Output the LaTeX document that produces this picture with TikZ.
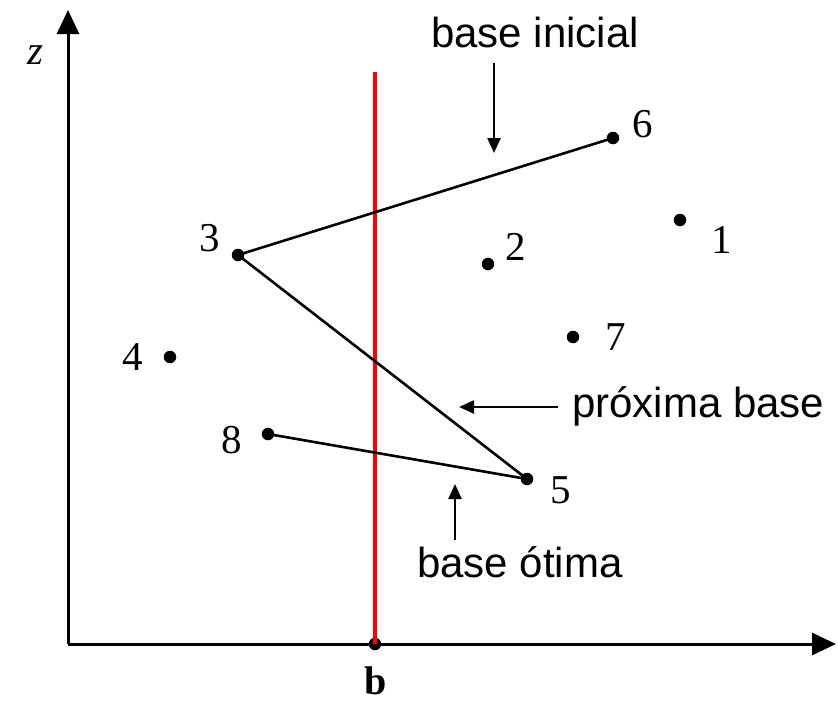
\documentclass[tikz,border=0pt]{standalone}
\usepackage{fontspec}
\setmainfont{Liberation Serif}
\newfontfamily\labelsans{Liberation Sans}
\usetikzlibrary{arrows.meta}
\begin{document}
\begin{tikzpicture}[x=1pt,y=-1pt,
  axis/.style={line width=3pt,-{Triangle[length=24pt,width=22pt]}},
  seg/.style={line width=2.6pt},
  pointer/.style={line width=2.4pt,-{Triangle[length=15pt,width=13pt]}},
  pt/.style={circle,fill=black,inner sep=0pt,minimum size=12.5pt},
  num/.style={font=\fontsize{41}{44}\selectfont,inner sep=0pt},
  txt/.style={font=\labelsans\fontsize{42}{46}\selectfont,inner sep=0pt,anchor=base west}]
\useasboundingbox (0,0) rectangle (838,702);
% axes
\coordinate (O) at (68,644);
\coordinate (ytip) at (68,10);
\coordinate (xtip) at (836,644);
\draw[axis] (O) -- (ytip);
\draw[axis] (O) -- (xtip);
% red line
\coordinate (rtop) at (375,72);
\node[pt] (b0) at (375,644) {};
\draw[red,line width=4pt] (b0.center) -- (rtop);
\node[font=\bfseries\fontsize{40}{44}\selectfont,inner sep=0pt] (blab) at (376,681) {b};
\node[font=\itshape\fontsize{41}{44}\selectfont,inner sep=0pt] (zlab) at (35,55) {z};
% points
\node[pt] (p1) at (680,220) {};
\node[pt] (p2) at (488,264) {};
\node[pt] (p3) at (238,255) {};
\node[pt] (p4) at (170,357) {};
\node[pt] (p5) at (527,479) {};
\node[pt] (p6) at (613,138) {};
\node[pt] (p7) at (573,337) {};
\node[pt] (p8) at (268,434) {};
% labels
\node[num] (l1) at (722,240) {1};
\node[num] (l2) at (516,247) {2};
\node[num] (l3) at (210,238) {3};
\node[num] (l4) at (133,357) {4};
\node[num] (l5) at (561,490) {5};
\node[num] (l6) at (643,124) {6};
\node[num] (l7) at (616,337) {7};
\node[num] (l8) at (232,440) {8};
% segments
\draw[seg] (p3.center) -- (p6.center);
\draw[seg] (p3.center) -- (p5.center);
\draw[seg] (p8.center) -- (p5.center);
% annotations
\node[txt] (tini) at (431,47) {base inicial};
\node[txt] (tprox) at (572,417) {próxima base};
\node[txt] (totim) at (417,577) {base ótima};
\coordinate (a1s) at (494,63);
\coordinate (a1e) at (494,153);
\coordinate (a2s) at (558,407);
\coordinate (a2e) at (459,407);
\coordinate (a3s) at (455,540);
\coordinate (a3e) at (455,484);
\draw[pointer] (a1s) -- (a1e);
\draw[pointer] (a2s) -- (a2e);
\draw[pointer] (a3s) -- (a3e);
\end{tikzpicture}
\end{document}
